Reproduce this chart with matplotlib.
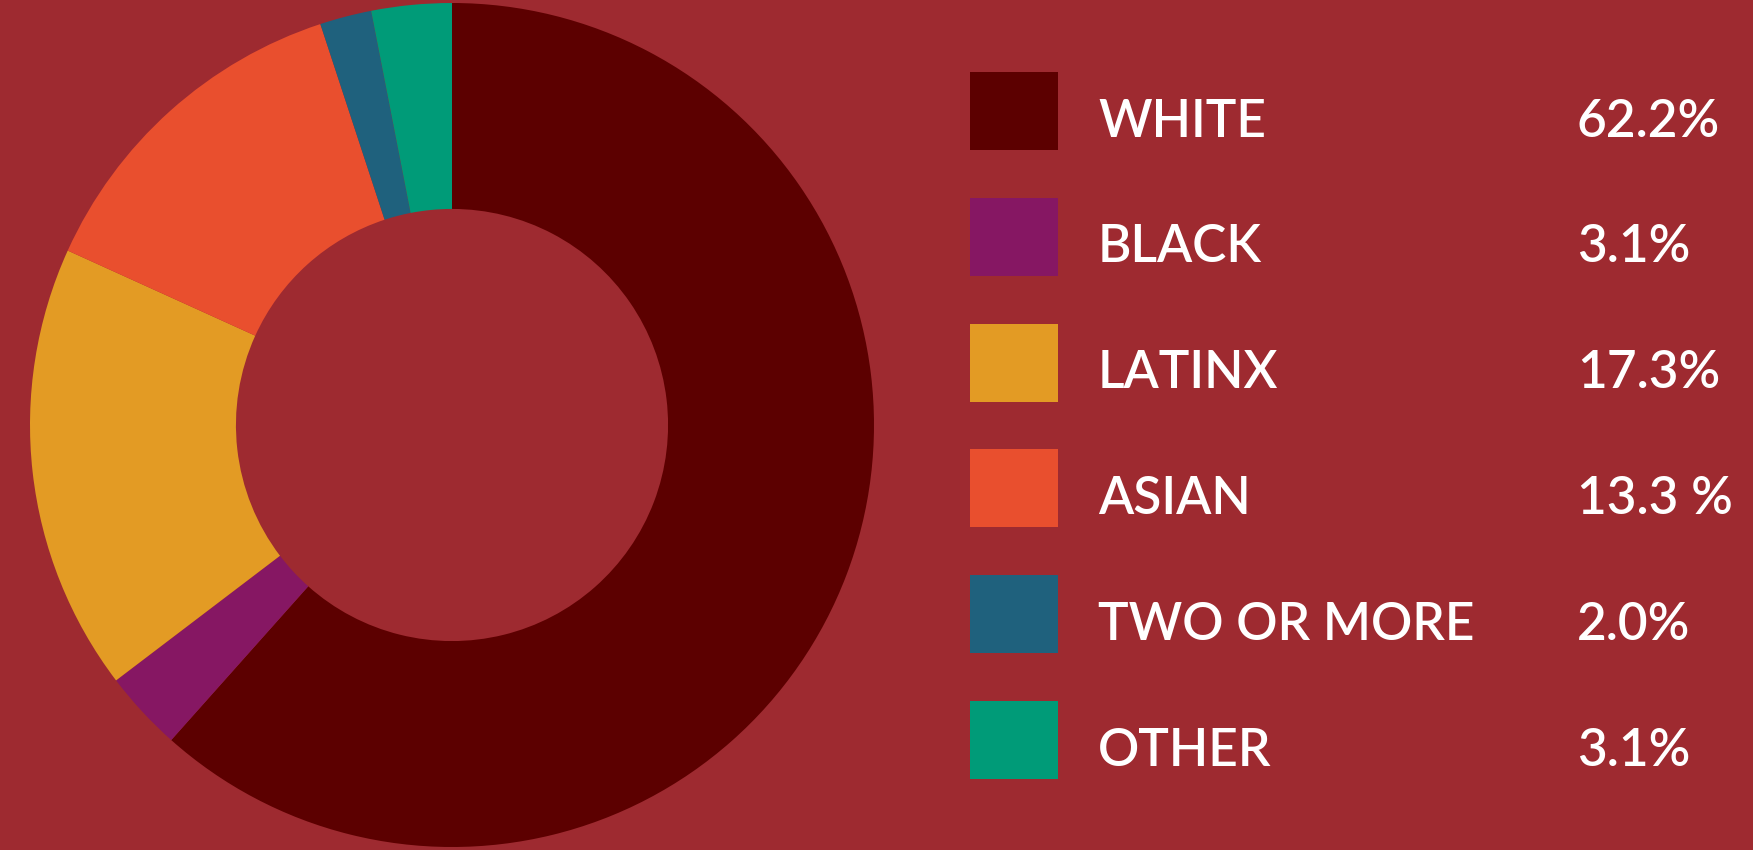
import matplotlib
matplotlib.use("Agg")
import matplotlib.pyplot as plt
from matplotlib.patches import Rectangle

categories = ["WHITE", "BLACK", "LATINX", "ASIAN", "TWO OR MORE", "OTHER"]
values = [62.2, 3.1, 17.3, 13.3, 2.0, 3.1]
value_labels = ["62.2%", "3.1%", "17.3%", "13.3 %", "2.0%", "3.1%"]
colors = ["#5C0000", "#861763", "#E39B24", "#E94F2E", "#1F617D", "#009B78"]
bg = "#9E2A30"

W, H = 1753, 850
fig = plt.figure(figsize=(W / 100, H / 100), dpi=100, facecolor=bg)

cx, cy, R = 452, 425, 422
ax = fig.add_axes([(cx - R) / W, (H - cy - R) / H, 2 * R / W, 2 * R / H])
ax.set_facecolor(bg)
ax.pie(values, colors=colors, startangle=90, counterclock=False, radius=1,
       wedgeprops=dict(width=0.488, linewidth=0, edgecolor="none", antialiased=True))
ax.set_xlim(-1, 1)
ax.set_ylim(-1, 1)
ax.set_aspect("equal")
ax.axis("off")

lax = fig.add_axes([0, 0, 1, 1])
lax.set_xlim(0, W)
lax.set_ylim(H, 0)
lax.axis("off")
lax.patch.set_alpha(0)

sq_x, sq_w, sq_h = 970, 88, 78
top0, step = 72, 125.8
for i, (cat, lab, col) in enumerate(zip(categories, value_labels, colors)):
    top = top0 + i * step
    lax.add_patch(Rectangle((sq_x, top), sq_w, sq_h, facecolor=col, edgecolor="none"))
    base = top + 64.5
    lax.text(1098, base, cat, color="white", fontsize=37, family="Lato",
             fontweight="semibold", va="baseline", ha="left")
    lax.text(1577, base, lab, color="white", fontsize=37, family="Lato",
             fontweight="semibold", va="baseline", ha="left")

fig.savefig("out.png", dpi=100, facecolor=bg)
